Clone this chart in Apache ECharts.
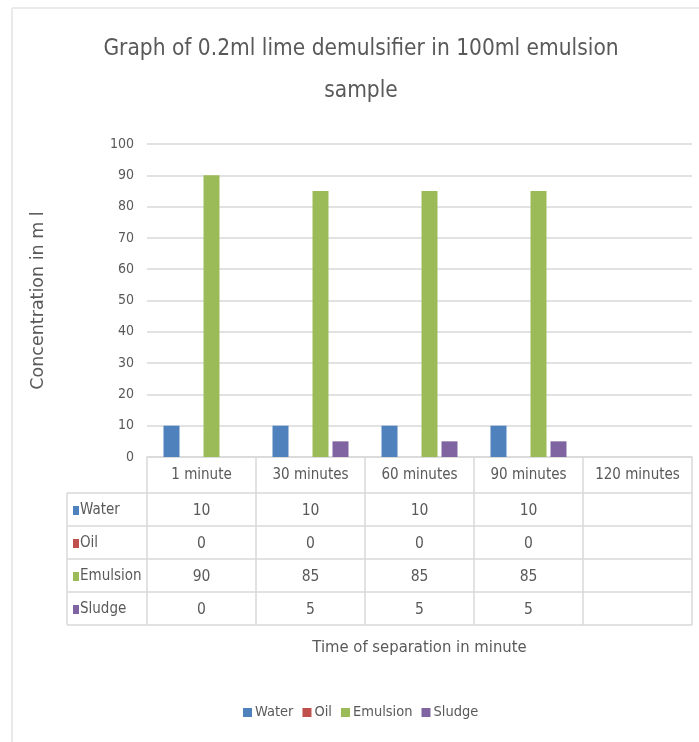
<!DOCTYPE html>
<html>
<head>
<meta charset="utf-8">
<script src="https://cdn.jsdelivr.net/npm/echarts@6/dist/echarts.min.js"></script>
<style>
  html, body { margin: 0; padding: 0; background: #ffffff; }
  #chart { width: 699px; height: 742px; }
</style>
</head>
<body>
<div id="chart"></div>
<script>
// Separation times (columns of the data table)
var categories = ['1 minute', '30 minutes', '60 minutes', '90 minutes', '120 minutes'];

// Volumes in ml for each phase; null = not measured
var water    = [10, 10, 10, 10, null];
var oil      = [0, 0, 0, 0, null];
var emulsion = [90, 85, 85, 85, null];
var sludge   = [0, 5, 5, 5, null];

var seriesNames = ['Water', 'Oil', 'Emulsion', 'Sludge'];
var seriesData = [water, oil, emulsion, sludge];
var colors = ['#4f81bd', '#c0504d', '#9bbb59', '#8064a2'];

var yTicks = { min: 0, max: 100, interval: 10 };

var FONT = '"DejaVu Sans Condensed", sans-serif';
var TEXT = '#595959';
var LINE = '#d9d9d9';

var chart = echarts.init(document.getElementById('chart'), null, { renderer: 'canvas' });

var series = seriesNames.map(function (name, i) {
  return {
    name: name,
    type: 'bar',
    data: seriesData[i],
    barWidth: 16,
    barGap: '25%',
    itemStyle: { color: colors[i] }
  };
});

chart.setOption({
  animation: false,
  color: colors,
  title: {
    text: 'Graph of 0.2ml lime demulsifier in 100ml emulsion\nsample',
    left: 356,
    textAlign: 'center',
    top: 23,
    textStyle: { fontFamily: FONT, fontSize: 22.5, fontWeight: 'normal', color: TEXT, lineHeight: 42 }
  },
  legend: {
    bottom: 17,
    left: 238,
    itemWidth: 9,
    itemHeight: 9,
    itemGap: 9,
    icon: 'rect',
    textStyle: { fontFamily: FONT, fontSize: 14.5, color: TEXT, padding: [0, 0, 0, -2] },
    data: seriesNames
  },
  grid: { left: 147, right: 7, top: 144, bottom: 285, containLabel: false },
  xAxis: {
    type: 'category',
    data: categories,
    axisLine: { show: true, lineStyle: { color: LINE, width: 1.5 } },
    axisTick: { show: false },
    axisLabel: { interval: 0, margin: 11, fontFamily: FONT, fontSize: 15, color: TEXT },
    name: 'Time of separation in minute',
    nameLocation: 'middle',
    nameGap: 182,
    nameTextStyle: { fontFamily: FONT, fontSize: 16.5, color: TEXT }
  },
  yAxis: {
    type: 'value',
    min: yTicks.min,
    max: yTicks.max,
    interval: yTicks.interval,
    axisLine: { show: false },
    axisTick: { show: false },
    splitLine: { lineStyle: { color: LINE, width: 1.5 } },
    axisLabel: { margin: 13, fontFamily: FONT, fontSize: 14, color: TEXT },
    name: 'Concentration in m l',
    nameLocation: 'middle',
    nameGap: 100,
    nameTextStyle: { fontFamily: '"DejaVu Sans", sans-serif', fontSize: 17.5, color: TEXT }
  },
  series: series
});

// Data table under the plot: column separators, row lines, row keys and values
function buildTable() {
  var gridModel = chart.getModel().getComponent('grid', 0);
  var rect = gridModel.coordinateSystem.getRect();
  var axisY = rect.y + rect.height;
  var headerH = 36;
  var rowH = 33;
  var tableLeft = 67;
  var right = rect.x + rect.width;
  var els = [];

  // chart frame
  els.push({ type: 'line', shape: { x1: 12, y1: 8, x2: 699, y2: 8 }, style: { stroke: '#e3e3e3', lineWidth: 1.5 }, silent: true });
  els.push({ type: 'line', shape: { x1: 12, y1: 8, x2: 12, y2: 742 }, style: { stroke: '#e3e3e3', lineWidth: 1.5 }, silent: true });

  var bottom = axisY + headerH + rowH * seriesNames.length;
  var bandW = rect.width / categories.length;

  // vertical separators
  for (var c = 0; c <= categories.length; c++) {
    var cx = c === categories.length ? right : chart.convertToPixel({ xAxisIndex: 0 }, categories[c]) - bandW / 2;
    els.push({ type: 'line', shape: { x1: cx, y1: axisY, x2: cx, y2: bottom }, style: { stroke: LINE, lineWidth: 1.5 }, silent: true });
  }
  els.push({ type: 'line', shape: { x1: tableLeft, y1: axisY + headerH, x2: tableLeft, y2: bottom }, style: { stroke: LINE, lineWidth: 1.5 }, silent: true });

  // horizontal lines
  for (var r = 0; r <= seriesNames.length; r++) {
    var ly = axisY + headerH + rowH * r;
    els.push({ type: 'line', shape: { x1: tableLeft, y1: ly, x2: right, y2: ly }, style: { stroke: LINE, lineWidth: 1.5 }, silent: true });
  }

  // rows
  seriesNames.forEach(function (name, i) {
    var cy = axisY + headerH + rowH * i + rowH / 2 + 1;
    els.push({ type: 'rect', shape: { x: 73, y: cy - 4.5, width: 6, height: 9 }, style: { fill: colors[i] }, silent: true });
    els.push({ type: 'text', x: 80, y: cy, style: { text: name, fontFamily: FONT, fontSize: 15, fill: TEXT, textVerticalAlign: 'middle', textAlign: 'left' }, silent: true });
    seriesData[i].forEach(function (v, j) {
      if (v === null || v === undefined) return;
      var x = chart.convertToPixel({ xAxisIndex: 0 }, categories[j]);
      els.push({ type: 'text', x: x, y: cy, style: { text: String(v), fontFamily: FONT, fontSize: 15.5, fill: TEXT, textAlign: 'center', textVerticalAlign: 'middle' }, silent: true });
    });
  });

  chart.setOption({ graphic: { elements: els } });
}
buildTable();
</script>
</body>
</html>
